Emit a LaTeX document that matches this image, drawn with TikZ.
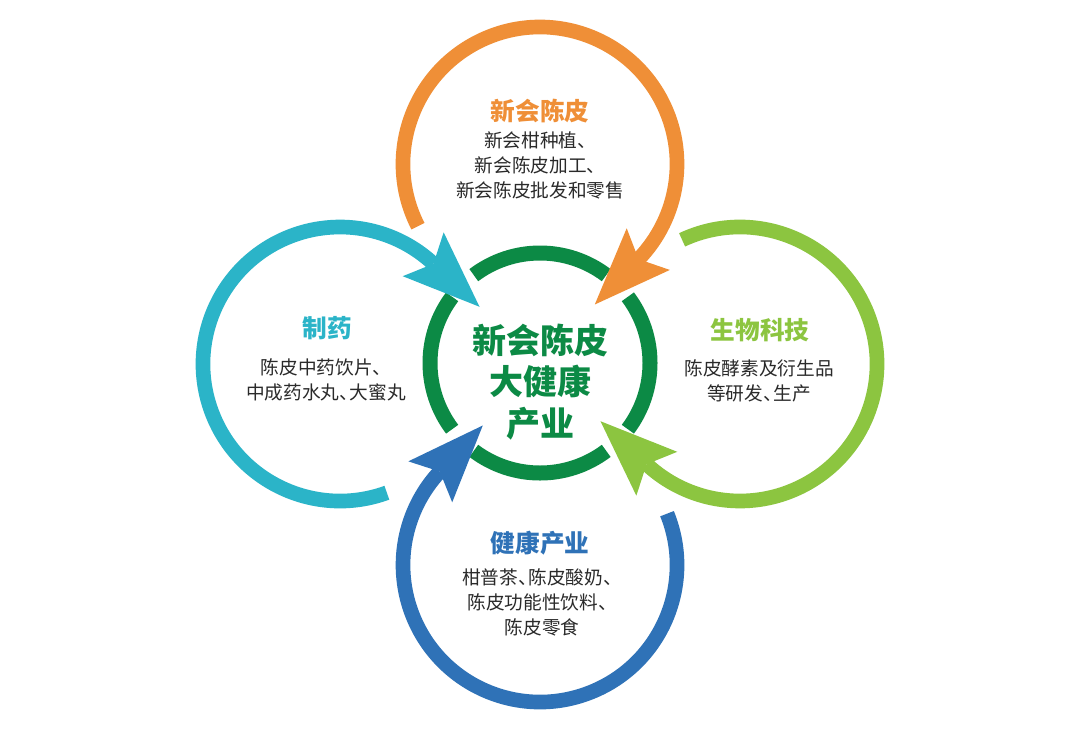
\documentclass[tikz,border=0pt]{standalone}
\usepackage{fontspec}
\setmainfont{Noto Sans CJK SC}
\usetikzlibrary{calc}
\definecolor{corange}{HTML}{EF8F37}
\definecolor{ccyan}{HTML}{2BB4C8}
\definecolor{clgreen}{HTML}{8CC540}
\definecolor{cblue}{HTML}{2F72B7}
\definecolor{cdgreen}{HTML}{0C8A45}
\definecolor{ctext}{HTML}{2A2A2A}
\newcommand\hdun{\makebox[0.55em][l]{、}}
\newcommand\pwarc[5]{%
  \draw[#1, line width=11pt] ($(#2)+(#3:137)$) arc[start angle=#3, end angle=#4, radius=137];
  \coordinate (#5n) at ($(#2)+(#4:137)$);
  \coordinate (#5t) at ($(#5n)+({#4+90}:63)$);
  \coordinate (#5a) at ($(#5n)+({#4+90}:-14)+(#4:30)$);
  \coordinate (#5b) at ($(#5n)+({#4+90}:-14)+(#4:-30)$);
  \fill[#1] (#5t) -- (#5a) -- (#5n) -- (#5b) -- cycle;
}
\begin{document}
\begin{tikzpicture}[x=0.75pt,y=-0.75pt,
  titletext/.style={font=\fontsize{18.5}{22}\selectfont\bfseries, align=center, inner sep=0pt},
  bodytext/.style={font=\fontsize{14}{18.75}\selectfont, text=ctext, align=center, inner sep=0pt},
  hubtext/.style={font=\fontsize{25.5}{31}\selectfont\bfseries, text=cdgreen, align=center, inner sep=0pt},
  ringarc/.style={draw=cdgreen, line width=11.25pt}]
\fill[white] (0,0) rectangle (1080,736);
\useasboundingbox (0,0) rectangle (1080,736);
% centres
\coordinate (M) at (540,363);
\coordinate (O) at (540,164);
\coordinate (C) at (340,364);
\coordinate (G) at (740,364);
\coordinate (B) at (540,565);
% central ring
\foreach \d in {0,90,180,270}{
  \draw[ringarc] ($(M)+({\d-37}:110)$) arc[start angle=\d-37, end angle=\d+37, radius=110];
}
% outer loops with arrows
\pwarc{corange}{O}{153}{404}{or}
\pwarc{ccyan}{C}{70}{313}{cy}
\pwarc{clgreen}{G}{245}{493}{gr}
\pwarc{cblue}{B}{338}{583}{bl}
% texts
\node[hubtext] (hub) at (540,382) {新会陈皮\\大健康\\产业};
\node[titletext, text=corange] (ot) at (540,111) {新会陈皮};
\node[bodytext] (ob) at (540,165) {新会柑种植、\\新会陈皮加工、\\新会陈皮批发和零售};
\node[titletext, text=ccyan] (ct) at (327,328) {制药};
\node[bodytext] (cb) at (326,380) {陈皮中药饮片、\\中成药水丸\hdun 大蜜丸};
\node[titletext, text=clgreen] (gt) at (760,330) {生物科技};
\node[bodytext] (gb) at (759,380.5) {陈皮酵素及衍生品\\等研发\hdun 生产};
\node[titletext, text=cblue] (bt) at (540,543) {健康产业};
\node[bodytext] (bb) at (542,602) {柑普茶\hdun 陈皮酸奶、\\陈皮功能性饮料、\\陈皮零食};
\end{tikzpicture}
\end{document}
